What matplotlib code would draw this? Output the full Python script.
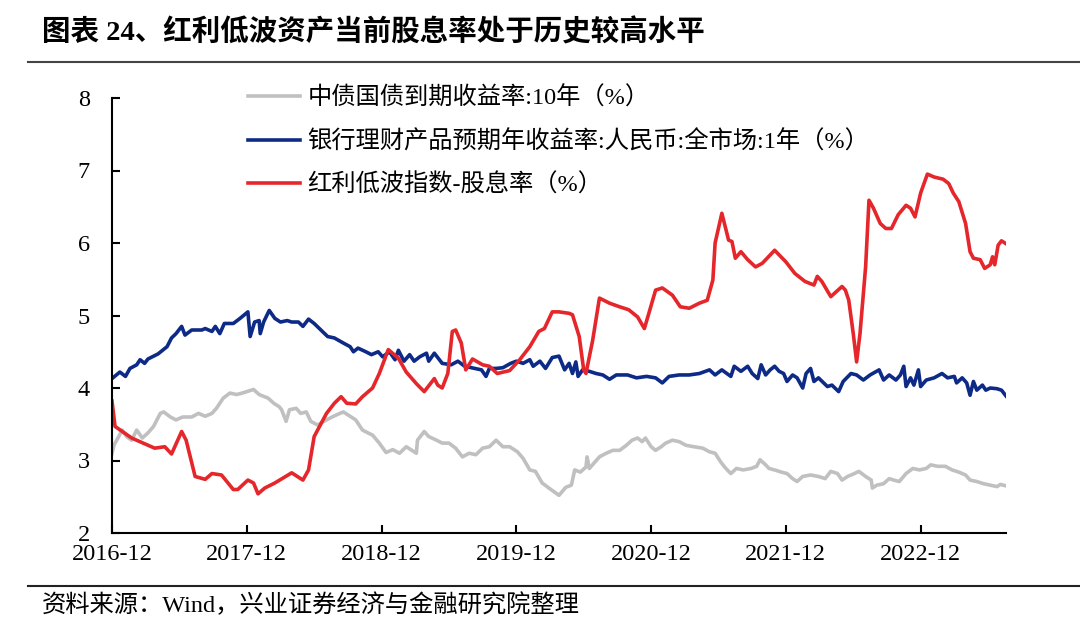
import matplotlib
matplotlib.use('Agg')
import matplotlib.pyplot as plt

plt.rcParams['font.family'] = ['Liberation Serif', 'Noto Sans CJK SC']

# months since 2016-12
tick_labels = ['2016-12', '2017-12', '2018-12', '2019-12', '2020-12', '2021-12', '2022-12']

# 中债国债到期收益率:10年
bond_m = [0, 0.2, 0.6, 0.9, 1.3, 1.75, 2.2, 2.7, 3.2, 3.7, 4.3, 4.6, 5.2, 5.7, 6.3, 7.1, 7.7, 8.3,
          8.9, 9.3, 9.9, 10.5, 11.1, 11.6, 12.6, 13.1, 13.9, 14.4, 14.9, 15.1, 15.5, 15.8, 16.4,
          16.8, 17.3, 17.7, 18.3, 19.1, 19.6, 20.0, 20.6, 21.2, 21.7, 22.3, 22.8, 23.2, 23.8, 24.4,
          25.0, 25.6, 26.2, 26.6, 27.1, 27.2, 27.8, 28.2, 28.9, 29.4, 30.0, 30.6, 31.2, 31.8, 32.4,
          33.0, 33.6, 34.2, 34.8, 35.4, 36.1, 36.6, 37.2, 37.7, 38.3, 38.9, 39.8, 40.4, 40.9, 41.2,
          41.7, 42.2, 42.3, 42.5, 43.0, 43.4, 44.0, 44.6, 45.2, 45.8, 46.3, 46.8, 47.2, 47.5, 48.0,
          48.4, 48.9, 49.3, 49.9, 50.5, 51.1, 51.8, 52.6, 53.2, 53.7, 54.2, 54.6, 55.1, 55.6, 56.2,
          56.9, 57.4, 57.7, 58.2, 58.5, 59.0, 59.6, 60.1, 60.6, 61.0, 61.5, 62.2, 62.9, 63.5, 64.0,
          64.6, 65.0, 65.5, 66.1, 66.5, 67.1, 67.6, 67.7, 68.1, 68.7, 69.2, 69.6, 70.1, 70.7, 71.3,
          71.9, 72.5, 72.9, 73.5, 74.2, 74.8, 75.4, 76.0, 76.4, 77.0, 77.6, 78.2, 78.8, 79.1, 79.6]
bond = [3.10, 3.22, 3.33, 3.42, 3.33, 3.28, 3.42, 3.31, 3.38, 3.47, 3.65, 3.67, 3.60, 3.56, 3.60,
        3.60, 3.65, 3.61, 3.65, 3.72, 3.86, 3.93, 3.91, 3.93, 3.98, 3.91, 3.86, 3.79, 3.74, 3.70,
        3.54, 3.70, 3.72, 3.65, 3.67, 3.54, 3.49, 3.56, 3.60, 3.63, 3.67, 3.61, 3.56, 3.42, 3.38,
        3.35, 3.24, 3.11, 3.15, 3.10, 3.19, 3.15, 3.10, 3.28, 3.40, 3.33, 3.28, 3.24, 3.24, 3.17,
        3.05, 3.10, 3.08, 3.17, 3.19, 3.28, 3.19, 3.19, 3.12, 3.03, 2.87, 2.85, 2.69, 2.62, 2.52,
        2.63, 2.66, 2.87, 2.84, 2.91, 3.05, 2.89, 2.98, 3.05, 3.10, 3.14, 3.14, 3.21, 3.28, 3.31,
        3.26, 3.31, 3.19, 3.14, 3.19, 3.24, 3.28, 3.26, 3.21, 3.19, 3.17, 3.12, 3.10, 2.98, 2.90,
        2.82, 2.89, 2.87, 2.89, 2.92, 3.01, 2.94, 2.89, 2.87, 2.84, 2.82, 2.75, 2.71, 2.78, 2.80,
        2.78, 2.75, 2.85, 2.82, 2.73, 2.78, 2.82, 2.85, 2.78, 2.73, 2.62, 2.66, 2.68, 2.75, 2.73,
        2.71, 2.82, 2.89, 2.87, 2.89, 2.94, 2.92, 2.92, 2.87, 2.84, 2.80, 2.73, 2.71, 2.68, 2.66,
        2.64, 2.67, 2.65]

# 银行理财产品预期年收益率:人民币:全市场:1年
wmp_m = [0, 0.7, 1.2, 1.6, 2.2, 2.5, 2.9, 3.2, 4.1, 4.9, 5.3, 5.7, 6.2, 6.5, 7.1, 8.0, 8.3, 8.9,
         9.2, 9.6, 10.0, 10.8, 11.4, 12.1, 12.3, 12.7, 13.1, 13.2, 13.5, 14.0, 14.5, 15.0, 15.6,
         16.0, 16.6, 17.0, 17.5, 18.0, 18.6, 19.2, 19.8, 20.6, 21.2, 21.5, 21.9, 22.6, 23.1, 23.7,
         24.1, 24.7, 25.2, 25.5, 26.0, 26.5, 26.9, 27.4, 28.0, 28.2, 28.7, 29.4, 30.2, 30.8, 31.4,
         32.3, 32.9, 33.3, 33.6, 34.2, 34.8, 35.5, 36.0, 36.6, 37.2, 37.5, 38.1, 38.6, 39.2, 39.8,
         40.3, 40.7, 41.0, 41.3, 41.5, 41.9, 42.5, 43.1, 43.7, 44.3, 44.9, 45.9, 46.7, 47.6, 48.4,
         49.0, 49.6, 50.5, 51.4, 52.3, 53.2, 53.7, 54.3, 55.1, 55.4, 56.0, 56.6, 57.0, 57.5, 57.8,
         58.2, 58.6, 59.0, 59.4, 59.8, 60.1, 60.6, 61.0, 61.5, 61.8, 62.2, 62.5, 62.9, 63.7, 64.1,
         64.7, 65.1, 65.8, 66.3, 66.9, 67.5, 68.3, 68.7, 69.2, 69.8, 70.2, 70.5, 70.7, 71.1, 71.4,
         71.8, 72.0, 72.5, 73.2, 73.9, 74.4, 75.0, 75.2, 75.7, 76.1, 76.4, 76.7, 77.0, 77.5, 77.8,
         78.2, 78.8, 79.2, 79.6]
wmp = [4.13, 4.22, 4.16, 4.27, 4.32, 4.39, 4.34, 4.40, 4.47, 4.57, 4.69, 4.75, 4.85, 4.73, 4.80,
       4.80, 4.82, 4.78, 4.85, 4.75, 4.89, 4.89, 4.96, 5.05, 4.71, 4.91, 4.93, 4.75, 4.91, 5.07,
       4.96, 4.91, 4.93, 4.91, 4.91, 4.85, 4.95, 4.89, 4.80, 4.71, 4.69, 4.62, 4.57, 4.50, 4.55,
       4.50, 4.46, 4.50, 4.43, 4.50, 4.39, 4.52, 4.37, 4.46, 4.37, 4.43, 4.48, 4.37, 4.48, 4.34,
       4.32, 4.37, 4.30, 4.27, 4.25, 4.16, 4.27, 4.27, 4.28, 4.34, 4.37, 4.34, 4.39, 4.30, 4.37,
       4.27, 4.42, 4.44, 4.25, 4.34, 4.20, 4.36, 4.16, 4.25, 4.23, 4.20, 4.18, 4.12, 4.18, 4.18,
       4.14, 4.16, 4.14, 4.07, 4.16, 4.18, 4.18, 4.20, 4.25, 4.18, 4.25, 4.16, 4.30, 4.23, 4.30,
       4.20, 4.13, 4.32, 4.18, 4.25, 4.30, 4.23, 4.20, 4.09, 4.18, 4.14, 4.00, 4.20, 4.27, 4.09,
       4.14, 4.02, 4.04, 3.95, 4.09, 4.20, 4.18, 4.11, 4.18, 4.25, 4.11, 4.18, 4.11, 4.18, 4.30,
       4.02, 4.14, 4.04, 4.25, 4.02, 4.11, 4.14, 4.20, 4.14, 4.16, 4.07, 4.14, 4.07, 3.90, 4.09,
       3.97, 4.04, 3.97, 4.00, 3.99, 3.97, 3.89]

# 红利低波指数-股息率
div_m = [0, 0.27, 1.75, 3.8, 4.7, 5.3, 6.2, 6.6, 7.4, 8.3, 8.9, 9.75, 10.8, 11.2, 12.1, 12.6, 13.0,
         13.6, 14.5, 16.0, 17.0, 17.5, 18.0, 19.1, 19.8, 20.4, 20.9, 21.7, 22.3, 23.2, 23.8, 24.6,
         25.5, 26.2, 27.1, 27.8, 28.7, 29.0, 29.4, 29.9, 30.3, 30.6, 31.1, 31.5, 32.1, 33.0, 33.6,
         34.3, 35.4, 36.3, 37.2, 38.0, 38.5, 39.2, 39.8, 40.7, 41.0, 41.6, 42.0, 42.2, 42.8, 43.4,
         44.3, 45.2, 46.0, 46.8, 47.4, 47.8, 48.4, 49.0, 49.9, 50.6, 51.4, 52.3, 53.0, 53.5, 53.7,
         54.3, 54.9, 55.2, 55.5, 56.0, 56.6, 57.3, 57.9, 59.0, 60.0, 60.8, 61.7, 62.5, 62.8, 63.2,
         64.0, 65.0, 65.3, 65.6, 66.0, 66.3, 66.6, 67.1, 67.4, 67.8, 68.4, 68.9, 69.4, 70.0, 70.7,
         71.1, 71.5, 72.0, 72.6, 73.2, 74.0, 74.5, 74.9, 75.4, 76.0, 76.4, 76.7, 77.3, 77.7, 78.2,
         78.4, 78.6, 78.9, 79.2, 79.6]
div = [3.82, 3.47, 3.31, 3.17, 3.19, 3.09, 3.40, 3.28, 2.78, 2.74, 2.82, 2.80, 2.60, 2.60, 2.73,
       2.69, 2.54, 2.62, 2.69, 2.83, 2.73, 2.87, 3.33, 3.65, 3.79, 3.88, 3.79, 3.78, 3.88, 4.00,
       4.20, 4.53, 4.41, 4.22, 4.06, 3.95, 4.13, 4.04, 4.00, 4.20, 4.78, 4.80, 4.62, 4.25, 4.40,
       4.32, 4.30, 4.20, 4.24, 4.39, 4.57, 4.78, 4.82, 5.05, 5.05, 5.03, 5.01, 4.71, 4.25, 4.20,
       4.66, 5.24, 5.17, 5.12, 5.08, 4.98, 4.82, 5.03, 5.35, 5.38, 5.28, 5.12, 5.10, 5.17, 5.21,
       5.49, 6.00, 6.41, 6.04, 6.02, 5.79, 5.88, 5.77, 5.67, 5.72, 5.90, 5.74, 5.58, 5.47, 5.42,
       5.54, 5.47, 5.26, 5.40, 5.35, 5.21, 4.75, 4.36, 4.75, 5.67, 6.59, 6.48, 6.27, 6.20, 6.20,
       6.39, 6.52, 6.48, 6.36, 6.69, 6.95, 6.91, 6.88, 6.82, 6.69, 6.57, 6.27, 5.88, 5.79, 5.77,
       5.65, 5.70, 5.81, 5.70, 5.97, 6.03, 5.99]

fig = plt.figure(figsize=(10.8, 6.34), dpi=100)
ax = fig.add_axes([112 / 1080, 1 - 533 / 634, 894 / 1080, 435 / 634])

ax.plot(bond_m, bond, color='#c0c0c0', lw=2.6, label='中债国债到期收益率:10年（%）')
ax.plot(wmp_m, wmp, color='#0d2a87', lw=2.6, label='银行理财产品预期年收益率:人民币:全市场:1年（%）')
ax.plot(div_m, div, color='#e5262b', lw=2.6, label='红利低波指数-股息率（%）')

ax.set_xlim(0, 79.6)
ax.set_ylim(2, 8)
ax.set_xticks([12 * i for i in range(len(tick_labels))])
ax.set_xticklabels(tick_labels)
ax.set_yticks(range(2, 9))
for s in ['top', 'right']:
    ax.spines[s].set_visible(False)
for s in ['left', 'bottom']:
    ax.spines[s].set_linewidth(1.5)
ax.tick_params(direction='in', length=6, width=1.5, labelsize=17.5, colors='black')
ax.tick_params(axis='x', pad=8)
ax.tick_params(axis='y', pad=16)

leg = ax.legend(loc='upper left', bbox_to_anchor=(0.152, 1.026), frameon=False, fontsize=17.5,
                handlelength=2.15, handletextpad=0.3, labelspacing=0.82, borderpad=0, borderaxespad=0)

fig.text(42 / 1080, 1 - 32 / 634, '图表 24、红利低波资产当前股息率处于历史较高水平', fontsize=20.5,
         fontweight='bold', va='center', ha='left')
fig.add_artist(plt.Line2D([28 / 1080, 1], [1 - 62 / 634] * 2, color='#444444', lw=1.5))
fig.add_artist(plt.Line2D([28 / 1080, 1], [1 - 586 / 634] * 2, color='#222222', lw=1.5))
fig.text(42 / 1080, 1 - 605 / 634, '资料来源：Wind，兴业证券经济与金融研究院整理', fontsize=17.5,
         va='center', ha='left')

fig.savefig('out.png', dpi=100)
